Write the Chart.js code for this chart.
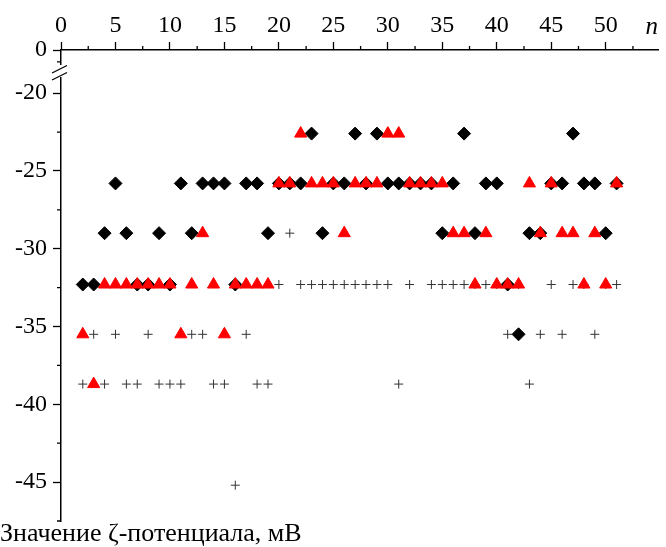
<!DOCTYPE html>
<html>
<head>
<meta charset="utf-8">
<script src="https://cdn.jsdelivr.net/npm/chart.js@4.4.1/dist/chart.umd.min.js"></script>
<style>
  body { margin: 0; background: #fff; }
</style>
</head>
<body>
<canvas id="zetaChart" width="666" height="547"></canvas>
<script>
// sample numbers n (x axis)
const nValues = [2, 3, 4, 5, 6, 7, 8, 9, 10, 11, 12, 13, 14, 15, 16, 17, 18, 19, 20, 21,
                 22, 23, 24, 25, 26, 27, 28, 29, 30, 31, 32, 33, 34, 35, 36, 37, 38, 39, 40, 41,
                 42, 43, 44, 45, 46, 47, 48, 49, 50, 51];

// zeta potential, mV (black diamonds)
const diamondValues = [-32.3, -32.3, -29.0, -25.8, -29.0, -32.3, -32.3, -29.0, -32.3, -25.8,
                       -29.0, -25.8, -25.8, -25.8, -32.3, -25.8, -25.8, -29.0, -25.8, -25.8,
                       -25.8, -22.6, -29.0, -25.8, -25.8, -22.6, -25.8, -22.6, -25.8, -25.8,
                       -25.8, -25.8, -25.8, -29.0, -25.8, -22.6, -29.0, -25.8, -25.8, -32.3,
                       -35.5, -29.0, -29.0, -25.8, -25.8, -22.6, -25.8, -25.8, -29.0, -25.8];

// zeta potential, mV (red triangles)
const triangleValues = [-35.5, -38.7, -32.3, -32.3, -32.3, -32.3, -32.3, -32.3, -32.3, -35.5,
                        -32.3, -29.0, -32.3, -35.5, -32.3, -32.3, -32.3, -32.3, -25.8, -25.8,
                        -22.6, -25.8, -25.8, -25.8, -29.0, -25.8, -25.8, -25.8, -22.6, -22.6,
                        -25.8, -25.8, -25.8, -25.8, -29.0, -29.0, -32.3, -29.0, -32.3, -32.3,
                        -32.3, -25.8, -29.0, -25.8, -29.0, -29.0, -32.3, -29.0, -32.3, -25.8];

// zeta potential, mV (crosses)
const crossValues = [-38.7, -35.5, -38.7, -35.5, -38.7, -38.7, -35.5, -38.7, -38.7, -38.7,
                     -35.5, -35.5, -38.7, -38.7, -45.2, -35.5, -38.7, -38.7, -32.3, -29.0,
                     -32.3, -32.3, -32.3, -32.3, -32.3, -32.3, -32.3, -32.3, -32.3, -38.7,
                     -32.3, -25.8, -32.3, -32.3, -32.3, -32.3, -32.3, -32.3, -32.3, -35.5,
                     -32.3, -38.7, -35.5, -32.3, -35.5, -32.3, -32.3, -35.5, -32.3, -32.3];

const xTicks = [0, 5, 10, 15, 20, 25, 30, 35, 40, 45, 50];
const yTicks = [-20, -25, -30, -35, -40, -45];
const yTopTicks = [0];

const serif = "'Liberation Serif', 'Times New Roman', serif";

function toPoints(values) {
    return values.map((v, i) => ({ x: nValues[i], y: v }));
}

// minor ticks and the break on the y axis
const axisExtras = {
    id: 'axisExtras',
    afterDraw(chart) {
        const ctx = chart.ctx;
        const xs = chart.scales.x;
        const ys = chart.scales.y;
        const yt = chart.scales.yTop;
        ctx.save();
        ctx.strokeStyle = '#000';
        ctx.lineWidth = 1.3;
        ctx.beginPath();
        for (let v = 2.5; v < xs.max; v += 5) {
            const px = xs.getPixelForValue(v);
            ctx.moveTo(px, xs.bottom);
            ctx.lineTo(px, xs.bottom - 4);
        }
        for (let v = -22.5; v >= ys.min; v -= 5) {
            const py = ys.getPixelForValue(v);
            ctx.moveTo(ys.right, py);
            ctx.lineTo(ys.right - 4, py);
        }
        const pyTop = yt.getPixelForValue(-0.75);
        ctx.moveTo(yt.right, pyTop);
        ctx.lineTo(yt.right - 4, pyTop);
        ctx.stroke();

        // gap in the axis line
        const ax = ys.right;
        ctx.fillStyle = '#fff';
        ctx.fillRect(ax - 3, 65, 6, 12);
        ctx.beginPath();
        ctx.moveTo(ax - 9, 73);
        ctx.lineTo(ax + 6, 65.5);
        ctx.moveTo(ax - 9, 80);
        ctx.lineTo(ax + 6, 72.5);
        ctx.stroke();
        ctx.restore();
    }
};

const ctx = document.getElementById('zetaChart').getContext('2d');

const zetaChart = new Chart(ctx, {
    type: 'scatter',
    data: {
        datasets: [{
            label: 'triangles',
            data: toPoints(triangleValues),
            pointStyle: 'triangle',
            pointRadius: 7,
            backgroundColor: '#ff0000',
            borderColor: '#ff0000',
            borderWidth: 1,
            order: 1
        }, {
            label: 'diamonds',
            data: toPoints(diamondValues),
            pointStyle: 'rectRot',
            pointRadius: 6.5,
            backgroundColor: '#000',
            borderColor: '#000',
            borderWidth: 1,
            order: 2
        }, {
            label: 'crosses',
            data: toPoints(crossValues),
            pointStyle: 'cross',
            pointRadius: 4.5,
            backgroundColor: '#333',
            borderColor: '#333',
            borderWidth: 1,
            order: 3
        }]
    },
    options: {
        responsive: false,
        animation: false,
        events: [],
        layout: { padding: 0 },
        plugins: {
            legend: { display: false },
            tooltip: { enabled: false },
            title: {
                display: true,
                text: 'Значение ζ-потенциала, мВ',
                position: 'bottom',
                align: 'start',
                color: '#000',
                font: { family: serif, size: 26, weight: 'normal', lineHeight: 1.0 },
                padding: 0
            }
        },
        scales: {
            x: {
                type: 'linear',
                position: 'top',
                min: 0,
                max: 54.8,
                afterBuildTicks: scale => { scale.ticks = xTicks.map(v => ({ value: v })); },
                afterFit: scale => { scale.height = 50; },
                ticks: {
                    color: '#000',
                    font: { family: serif, size: 24 },
                    padding: 2,
                    maxRotation: 0
                },
                grid: { drawOnChartArea: false, tickLength: 8, tickColor: '#000', tickWidth: 1.3 },
                border: { color: '#000', width: 1.5 },
                title: {
                    display: true,
                    text: 'n',
                    align: 'end',
                    color: '#000',
                    font: { family: serif, size: 25, style: 'italic' },
                    padding: { top: 12, bottom: 0 }
                }
            },
            y: {
                type: 'linear',
                position: 'left',
                stack: 'zeta',
                stackWeight: 449,
                min: -47.5,
                max: -18.64,
                afterBuildTicks: scale => { scale.ticks = yTicks.map(v => ({ value: v })); },
                afterFit: scale => { scale.width = 61; },
                ticks: {
                    color: '#000',
                    font: { family: serif, size: 24 },
                    padding: 6,
                    callback: v => String(v)
                },
                grid: { drawOnChartArea: false, tickLength: 8, tickColor: '#000', tickWidth: 1.3 },
                border: { color: '#000', width: 1.5 }
            },
            yTop: {
                type: 'linear',
                position: 'left',
                stack: 'zeta',
                stackWeight: 22,
                min: -1.4,
                max: 0,
                afterBuildTicks: scale => { scale.ticks = yTopTicks.map(v => ({ value: v })); },
                afterFit: scale => { scale.width = 61; },
                ticks: {
                    color: '#000',
                    font: { family: serif, size: 24 },
                    padding: 6,
                    callback: v => String(v)
                },
                grid: { drawOnChartArea: false, tickLength: 8, tickColor: '#000', tickWidth: 1.3 },
                border: { color: '#000', width: 1.5 }
            }
        }
    },
    plugins: [axisExtras]
});
</script>
</body>
</html>
